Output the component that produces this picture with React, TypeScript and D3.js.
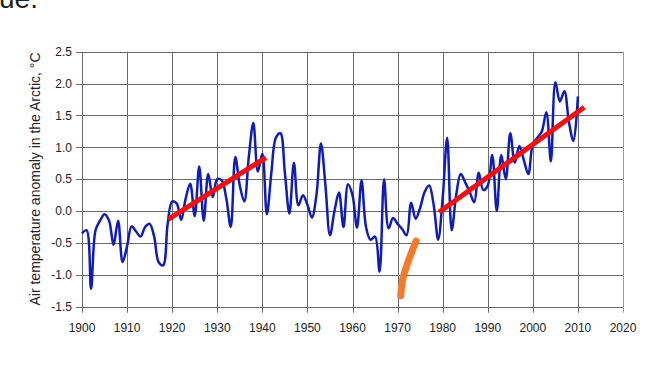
import React, { useEffect, useRef } from 'react'
import * as d3 from 'd3'

const years = d3.range(1900, 2011)
const anomaly = [
    -0.35, -0.30, -1.22, -0.30, -0.15, -0.05, -0.15, -0.53, -0.15, -0.80,
    -0.55, -0.24, -0.32, -0.40, -0.25, -0.20, -0.40, -0.80, -0.85, -0.20,
    0.15, 0.12, -0.14, 0.20, 0.43, -0.08, 0.70, -0.15, 0.58, 0.22,
    0.50, 0.48, 0.20, -0.25, 0.85, 0.40, 0.15, 0.85, 1.38, 0.62,
    0.90, -0.05, 0.60, 1.15, 1.22, 0.60, -0.04, 0.76, 0.09, 0.25,
    0.10, -0.10, 0.25, 1.06, 0.40, -0.38, 0.00, 0.29, -0.25, 0.42,
    0.25, -0.26, 0.48, -0.25, -0.45, -0.40, -0.95, 0.50, -0.27, -0.11,
    -0.20, -0.28, -0.38, 0.13, -0.12, 0.05, 0.30, 0.40, 0.10, -0.45,
    0.20, 1.15, -0.30, 0.25, 0.58, 0.45, 0.30, 0.14, 0.60, 0.33,
    0.40, 0.88, 0.00, 0.88, 0.50, 1.22, 0.76, 1.02, 0.80, 0.58,
    1.05, 1.15, 1.25, 1.55, 0.78, 2.02, 1.72, 1.88, 1.40, 1.10,
    1.80
]

// red trend segments [year, value]
const trend1: [number, number][] = [[1919.1, -0.13], [1940.8, 0.84]]
const trend2: [number, number][] = [[1979.2, -0.02], [2011.4, 1.63]]
// orange hand-drawn stroke
const orangeMark: [number, number][] = [[1970.7, -1.33], [1971.1, -1.08], [1972.3, -0.80], [1974.1, -0.47]]

const xTicks = d3.range(1900, 2021, 10)
const yTicks = [-1.5, -1.0, -0.5, 0.0, 0.5, 1.0, 1.5, 2.0, 2.5]

export default function App() {
    const ref = useRef<SVGSVGElement>(null)

    useEffect(() => {
        const svg = d3.select(ref.current)
        svg.selectAll("*").remove()

        const x = d3.scaleLinear().domain([1900, 2020]).range([82, 623])
        const y = d3.scaleLinear().domain([-1.5, 2.5]).range([306.7, 51.7])

        svg.append("rect").attr("width", 655).attr("height", 371).attr("fill", "white")

        // cut off text at top (it is cut in the source screenshot too)
        svg.append("text").attr("x", -1).attr("y", 8).text("ue.")
            .style("font", "28px 'Liberation Sans', sans-serif").attr("fill", "#222")

        // grid
        svg.append("g").selectAll("line").data(yTicks).join("line")
            .attr("x1", 76).attr("x2", 623)
            .attr("y1", d => Math.round(y(d)) + 0.5).attr("y2", d => Math.round(y(d)) + 0.5)
            .attr("stroke", "#6a6a6a").attr("stroke-width", 1)
        svg.append("g").selectAll("line").data(xTicks).join("line")
            .attr("x1", d => Math.round(x(d)) + 0.5).attr("x2", d => Math.round(x(d)) + 0.5)
            .attr("y1", y(2.5)).attr("y2", y(-1.5) + 6)
            .attr("stroke", d => d === 2020 ? "#9a9a9a" : "#6a6a6a").attr("stroke-width", 1)

        // tick labels
        svg.append("g").selectAll("text").data(yTicks).join("text")
            .attr("x", 72).attr("y", d => y(d)).attr("dy", "0.35em")
            .attr("text-anchor", "end")
            .text(d => d.toFixed(1))
            .style("font", "12px 'Liberation Sans', sans-serif").attr("fill", "#222")
        svg.append("g").selectAll("text").data(xTicks).join("text")
            .attr("x", d => x(d)).attr("y", 332)
            .attr("text-anchor", "middle")
            .text(d => d)
            .style("font", "12px 'Liberation Sans', sans-serif").attr("fill", "#222")

        // axis title
        svg.append("text")
            .attr("transform", "translate(40,179) rotate(-90)")
            .attr("text-anchor", "middle")
            .text("Air temperature anomaly in the Arctic, °C")
            .style("font", "14px 'Liberation Sans', sans-serif").attr("fill", "#222")

        // series
        const line = d3.line<number>()
            .x((d, i) => x(years[i]))
            .y(d => y(d))
            .curve(d3.curveCatmullRom.alpha(0.5))
        svg.append("path")
            .attr("d", line(anomaly))
            .attr("fill", "none")
            .attr("stroke", "#0f1cb6")
            .attr("stroke-width", 2.5)
            .attr("stroke-linejoin", "round")

        const seg = d3.line<[number, number]>().x(d => x(d[0])).y(d => y(d[1]))
        for (const t of [trend1, trend2]) {
            svg.append("path")
                .attr("d", seg(t))
                .attr("stroke", "#f01010")
                .attr("stroke-width", 5)
                .attr("fill", "none")
        }

        svg.append("path")
            .attr("d", seg.curve(d3.curveCatmullRom)(orangeMark))
            .attr("stroke", "#f47a2c")
            .attr("stroke-width", 7)
            .attr("stroke-linecap", "round")
            .attr("fill", "none")
    }, [])

    return (
        <svg ref={ref} width={655} height={371}
            style={{ position: "absolute", left: 0, top: 0, display: "block" }} />
    )
}
